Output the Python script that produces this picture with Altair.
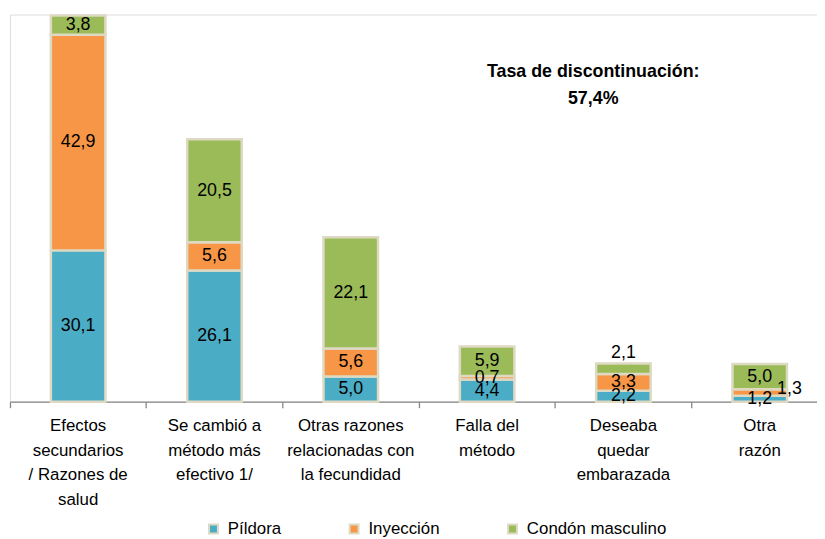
import altair as alt
import pandas as pd

categories = [
    "Efectos\nsecundarios\n/ Razones de\nsalud",
    "Se cambió a\nmétodo más\nefectivo 1/",
    "Otras razones\nrelacionadas con\nla fecundidad",
    "Falla del\nmétodo",
    "Deseaba\nquedar\nembarazada",
    "Otra\nrazón",
]
series = ["Píldora", "Inyección", "Condón masculino"]
pildora = [30.1, 26.1, 5.0, 4.4, 2.2, 1.2]
inyeccion = [42.9, 5.6, 5.6, 0.7, 3.3, 1.3]
condon = [3.8, 20.5, 22.1, 5.9, 2.1, 5.0]
colors = ["#4bacc6", "#f79646", "#9bbb59"]
annotation = ["Tasa de discontinuación:", "57,4%"]

FONT = "Liberation Sans, Arial, Helvetica"
BORDER = "#ddd9c3"

rows = []
for ci, cat in enumerate(categories):
    base = 0.0
    for si, (s, vals) in enumerate(zip(series, [pildora, inyeccion, condon])):
        v = vals[ci]
        rows.append({
            "cat": cat, "serie": s, "order": si, "value": v,
            "start": base, "end": base + v, "mid": base + v / 2,
            "label": f"{v:.1f}".replace(".", ","),
            "key": f"{ci}-{si}",
        })
        base += v
df = pd.DataFrame(rows)

xscale = alt.Scale(domain=categories, range=[0, 826], paddingInner=0, paddingOuter=0)
yscale = alt.Scale(domain=[0, 77], nice=False, zero=True)

base = alt.Chart(df)

bars = base.mark_bar(width={"band": 0.4}, stroke=BORDER, strokeWidth=2.5).encode(
    x=alt.X("cat:N", sort=categories, scale=xscale,
            axis=alt.Axis(title=None, labelAngle=0, bandPosition=0,
                          labelExpr="split(datum.label, '\\n')",
                          labelFont=FONT, labelFontSize=17, labelLineHeight=25,
                          labelColor="#000000", labelPadding=10,
                          domainColor="#868686", domainWidth=1.3,
                          tickColor="#868686", tickWidth=1.3, tickSize=6,
                          grid=False, labelOverlap=False)),
    y=alt.Y("start:Q", scale=yscale, axis=None),
    y2="end:Q",
    color=alt.Color("serie:N", sort=series,
                    scale=alt.Scale(domain=series, range=colors),
                    legend=alt.Legend(title=None, orient="none", direction="horizontal",
                                      legendX=197, legendY=511,
                                      symbolType="square", symbolSize=80,
                                      symbolStrokeColor=BORDER, symbolStrokeWidth=2,
                                      labelFont=FONT, labelFontSize=17, labelColor="#000000",
                                      labelOffset=6, columnPadding=65)),
    order=alt.Order("order:Q"),
)

special = ["4-2", "5-1"]

labels_mid = base.transform_filter(
    ~alt.FieldOneOfPredicate(field="key", oneOf=special)
).mark_text(font=FONT, fontSize=18, color="#000000", baseline="middle").encode(
    x=alt.X("cat:N", sort=categories, scale=xscale),
    y=alt.Y("mid:Q", scale=yscale),
    text="label:N",
)

labels_above = base.transform_filter(
    alt.FieldEqualPredicate(field="key", equal="4-2")
).mark_text(font=FONT, fontSize=18, color="#000000", baseline="bottom", dy=-2).encode(
    x=alt.X("cat:N", sort=categories, scale=xscale),
    y=alt.Y("end:Q", scale=yscale),
    text="label:N",
)

labels_right = base.transform_filter(
    alt.FieldEqualPredicate(field="key", equal="5-1")
).mark_text(font=FONT, fontSize=18, color="#000000", baseline="middle", dx=30, dy=-3).encode(
    x=alt.X("cat:N", sort=categories, scale=xscale),
    y=alt.Y("mid:Q", scale=yscale),
    text="label:N",
)

note = alt.Chart(pd.DataFrame({"t": [annotation]})).mark_text(
    font=FONT, fontSize=18, fontWeight="bold", color="#000000",
    align="center", baseline="middle", lineHeight=27,
).encode(x=alt.value(589), y=alt.value(58), text="t")

chart = alt.layer(bars, labels_mid, labels_above, labels_right, note).properties(
    width=815, height=391,
    autosize=alt.AutoSizeParams(type="none"),
    padding={"left": 2, "top": 4, "right": 0, "bottom": 135},
).configure_view(stroke=None).configure(background="#ffffff")

chart.save("out.html", embed_options={"renderer": "svg", "actions": False})
